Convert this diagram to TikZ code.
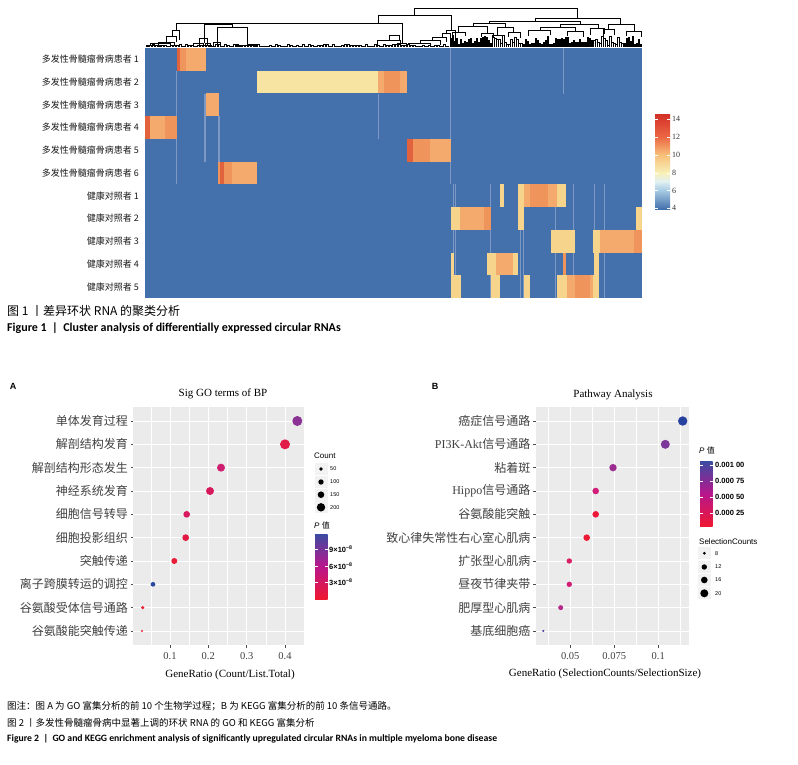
\documentclass[tikz,border=0pt]{standalone}
\usepackage{fontspec}
\setmainfont{Liberation Serif}
\setsansfont{Liberation Sans}
\newfontfamily\cjk{Noto Sans CJK SC}
\newfontfamily\capfont{Carlito}

\definecolor{hmblue}{RGB}{68,112,172}
\definecolor{hmfaint}{RGB}{125,152,195}
\definecolor{hmred}{RGB}{226,98,62}
\definecolor{hmorange}{RGB}{239,148,90}
\definecolor{hmpeach}{RGB}{243,170,108}
\definecolor{hmyellow}{RGB}{247,212,140}
\definecolor{hmpale}{RGB}{248,228,162}
\definecolor{panelgray}{RGB}{235,235,235}
\definecolor{pA1}{RGB}{140,50,150}
\definecolor{pA2}{RGB}{226,26,72}
\definecolor{pA3}{RGB}{205,30,112}
\definecolor{pA4}{RGB}{215,26,92}
\definecolor{pA5}{RGB}{216,26,96}
\definecolor{pA6}{RGB}{226,26,66}
\definecolor{pA7}{RGB}{232,28,56}
\definecolor{pA8}{RGB}{42,72,160}
\definecolor{pA9}{RGB}{236,30,50}
\definecolor{pB1}{RGB}{40,66,160}
\definecolor{pB2}{RGB}{125,55,155}
\definecolor{pB3}{RGB}{155,45,145}
\definecolor{pB4}{RGB}{210,30,120}
\definecolor{pB5}{RGB}{236,26,56}
\definecolor{pB6}{RGB}{236,26,50}
\definecolor{pB7}{RGB}{216,30,100}
\definecolor{pB8}{RGB}{210,30,116}
\definecolor{pB9}{RGB}{180,40,140}
\definecolor{pB10}{RGB}{82,60,160}
\definecolor{cbblue}{RGB}{60,75,162}
\definecolor{cbmag}{RGB}{185,22,140}
\definecolor{cbred}{RGB}{240,24,48}

% one heatmap cell run: row, x from, x to, colour
\newcommand{\hmbar}[4]{\fill[#4] (#2,{48+(#1-1)*22.727}) rectangle (#3,{48+#1*22.727});}

\tikzset{
  dendro/.style={line width=0.45pt, black},
  rowlab/.style={anchor=east, inner sep=0pt, text=black!90, font=\cjk\fontsize{9}{10}\selectfont},
  golab/.style={anchor=east, inner sep=0pt, text=black!75, font=\cjk\fontsize{12}{13}\selectfont},
  axnum/.style={inner sep=0pt, text=black!75, font=\fontsize{10.5}{12}\selectfont},
  axtitle/.style={inner sep=0pt, font=\fontsize{11}{13}\selectfont},
  bubble/.style={circle, inner sep=0pt, minimum size=#1pt},
  legtitle/.style={anchor=west, inner sep=0pt, font=\sffamily\fontsize{8}{9}\selectfont},
  legnum/.style={anchor=west, inner sep=0pt, font=\sffamily\fontsize{5.5}{6}\selectfont},
  cbnum/.style={anchor=west, inner sep=0pt, font=\sffamily\bfseries\fontsize{7.5}{9}\selectfont},
  hmnum/.style={anchor=west, inner sep=0pt, text=black!80, font=\fontsize{8}{9}\selectfont},
  panellab/.style={inner sep=0pt, font=\sffamily\bfseries\fontsize{9}{10}\selectfont},
  capcn/.style={anchor=west, inner sep=0pt, font=\cjk\fontsize{9.5}{11}\selectfont},
  capen/.style={anchor=west, inner sep=0pt, font=\capfont\bfseries\fontsize{12}{14}\selectfont},
}

\begin{document}
\begin{tikzpicture}[x=1pt,y=-1pt]
\useasboundingbox (0,0) rectangle (798,765);

% Heatmap
\fill[hmblue] (145,48) rectangle (642,298);
\fill[hmfaint] (449.5,48) rectangle (451,184);
\fill[hmfaint] (175.5,71) rectangle (177,184);
\fill[hmfaint] (204,94) rectangle (205.5,162);
\fill[hmfaint] (218,116) rectangle (219.5,162);
\fill[hmfaint] (562.5,48) rectangle (564,94);
\fill[hmfaint] (377.5,94) rectangle (379,139);
\foreach \x in {453,455,490,520,523,555,573,594,604}
  \fill[hmfaint] (\x,184) rectangle (\x+1.3,298);

\hmbar{1}{177}{206}{hmpeach}
\hmbar{1}{177}{186}{hmorange}
\hmbar{1}{177}{180}{hmred}
\hmbar{2}{257}{378}{hmpale}
\hmbar{2}{378}{407}{hmpeach}
\hmbar{2}{384}{400}{hmorange}
\hmbar{3}{206}{219}{hmpeach}
\hmbar{4}{145}{177}{hmpeach}
\hmbar{4}{165}{177}{hmorange}
\hmbar{4}{145}{150}{hmred}
\hmbar{5}{407}{451}{hmpeach}
\hmbar{5}{413}{430}{hmorange}
\hmbar{5}{407}{413}{hmred}
\hmbar{6}{218}{257}{hmpeach}
\hmbar{6}{218}{232}{hmorange}
\hmbar{6}{220}{224}{hmred}
\hmbar{7}{500}{504}{hmyellow}
\hmbar{7}{518}{566}{hmyellow}
\hmbar{7}{524}{557}{hmpeach}
\hmbar{7}{530}{548}{hmorange}
\hmbar{8}{451}{491}{hmyellow}
\hmbar{8}{460}{488}{hmpeach}
\hmbar{8}{484}{491}{hmorange}
\hmbar{8}{518}{524}{hmyellow}
\hmbar{8}{636}{642}{hmyellow}
\hmbar{9}{551}{575}{hmyellow}
\hmbar{9}{593}{642}{hmpeach}
\hmbar{9}{593}{600}{hmyellow}
\hmbar{9}{634}{642}{hmorange}
\hmbar{10}{451}{454}{hmyellow}
\hmbar{10}{487}{518}{hmyellow}
\hmbar{10}{496}{513}{hmpeach}
\hmbar{10}{563}{566}{hmorange}
\hmbar{10}{594}{599}{hmyellow}
\hmbar{11}{451}{461}{hmyellow}
\hmbar{11}{491}{500}{hmyellow}
\hmbar{11}{524}{530}{hmyellow}
\hmbar{11}{557}{567}{hmyellow}
\hmbar{11}{567}{593}{hmpeach}
\hmbar{11}{575}{590}{hmorange}
\hmbar{11}{593}{599}{hmyellow}

% Row labels
\foreach \i in {1,...,6}
  \node[rowlab] (mm\i) at (139,{48+(\i-0.5)*22.727}) {多发性骨髓瘤骨病患者 \i};
\foreach \i in {1,...,5}
  \node[rowlab] (hc\i) at (139,{48+(\i+5.5)*22.727}) {健康对照者 \i};

% Dendrogram
\draw[dendro] (414,15) |- (577,8) -- (577,18);
\draw[dendro] (378,23) |- (451,15) -- (451,30);
\draw[dendro] (176,30) |- (402,23) -- (402,43);
\draw[dendro] (204,43) |- (232,24.5) -- (232,27);
\draw[dendro] (217,47) |- (247,27) -- (247,45);
\draw[dendro] (172,36) |- (179,30) -- (179,40);
\draw[dendro] (166,43) |- (176,36) -- (176,42);
\draw[dendro] (150,46) |- (170,43) -- (170,46);
\draw[dendro] (158,46) |- (174,42) -- (174,45);
\draw[dendro] (147,47) |- (160,45) -- (160,47);
\draw[dendro] (199,46) |- (207,38) -- (207,45);
\draw[dendro] (193,47) |- (203,43) -- (203,46);
\draw[dendro] (205,46) |- (210,43) -- (210,47);
\draw[dendro] (213,47) |- (220,42) -- (220,47);
\draw[dendro] (237,47) |- (255,45) -- (255,47);
\draw[dendro] (397,47) |- (406,43) -- (406,47);
\draw[dendro] (377,47) |- (400,40) -- (400,47);
\draw[dendro] (389,40) |- (399,35) -- (399,40);
\draw[dendro] (446,33) |- (455,30) -- (455,45);
\draw[dendro] (442,37) |- (450,33) -- (450,40);
\draw[dendro] (432,40.5) |- (446,37) -- (446,42);
\draw[dendro] (420,43.3) |- (440,40.5) -- (440,45);
\draw[dendro] (408,45) |- (430,43.3) -- (430,46);
\draw[dendro] (535,21) |- (620,18) -- (620,24);
\draw[dendro] (489,23) |- (580,21) -- (580,24);
\draw[dendro] (473,26) |- (505,23) -- (505,27);
\draw[dendro] (458,32) |- (487,26) -- (487,33);
\draw[dendro] (452,38) |- (465,32) -- (465,36);
\draw[dendro] (481,37) |- (493,33) -- (493,38);
\draw[dendro] (497,35) |- (513,27) -- (513,32);
\draw[dendro] (492,39) |- (502,35) -- (502,38);
\draw[dendro] (508,37) |- (520,32) -- (520,38);
\draw[dendro] (560,27) |- (598,24) -- (598,28);
\draw[dendro] (540,30) |- (575,27) -- (575,31);
\draw[dendro] (528,36) |- (550,30) -- (550,35);
\draw[dendro] (567,36) |- (583,31) -- (583,37);
\draw[dendro] (590,35) |- (604,28) -- (604,34);
\draw[dendro] (608,29) |- (634,24) -- (634,31);
\draw[dendro] (603,36) |- (614,29) -- (614,35);
\draw[dendro] (626,36) |- (641,31) -- (641,37);
\pgfmathsetseed{11}
\foreach \i in {0,...,94} {
  \pgfmathsetmacro{\xa}{450+\i*2.02}
  \pgfmathsetmacro{\hh}{2+10*rnd}
  \draw[dendro] (\xa,47) |- (\xa+1.3,47-\hh) -- (\xa+1.3,47);
}
\foreach \i in {0,...,100} {
  \pgfmathsetmacro{\xa}{146+\i*3}
  \pgfmathsetmacro{\hh}{0.6+2.4*rnd}
  \draw[dendro] (\xa,47) |- (\xa+2,47-\hh) -- (\xa+2,47);
}

% Heatmap colour key
\shade[top color={rgb,255:red,212;green,50;blue,40}, bottom color={rgb,255:red,236;green,104;blue,68}] (655,115) rectangle (670,137);
\shade[top color={rgb,255:red,236;green,104;blue,68}, bottom color={rgb,255:red,248;green,192;blue,122}] (655,137) rectangle (670,155);
\shade[top color={rgb,255:red,248;green,192;blue,122}, bottom color={rgb,255:red,247;green,240;blue,184}] (655,155) rectangle (670,173);
\shade[top color={rgb,255:red,247;green,240;blue,184}, bottom color={rgb,255:red,226;green,240;blue,242}] (655,173) rectangle (670,181.5);
\shade[top color={rgb,255:red,226;green,240;blue,242}, bottom color={rgb,255:red,166;green,202;blue,228}] (655,181.5) rectangle (670,190.5);
\shade[top color={rgb,255:red,166;green,202;blue,228}, bottom color=hmblue] (655,190.5) rectangle (670,209);
\foreach \v/\yy in {14/119,12/137,10/155,8/173,6/190.5,4/208} {
  \draw[white, line width=0.6pt] (655,\yy) -- (658,\yy) (667,\yy) -- (670,\yy);
  \node[hmnum] (hml\v) at (672,\yy) {\v};
}

% Figure 1 caption
\node[capcn, font=\cjk\fontsize{12}{13}\selectfont] (cap1cn) at (7,311) {图 1 丨差异环状 RNA 的聚类分析};
\node[capen] (cap1en) at (7,328) {Figure 1~~|~~Cluster analysis of differentially expressed circular RNAs};

% Panel A
\node[panellab] (labA) at (13,386) {A};
\node[axtitle] (titA) at (223,394) {Sig GO terms of BP};
\fill[panelgray] (133,407) rectangle (305,645);
\foreach \x in {150.8,189.2,227.5,265.8,304.2}
  \draw[white, line width=0.3pt] (\x,407) -- (\x,645);
\foreach \x in {170,208.3,246.7,285}
  \draw[white, line width=0.7pt] (\x,407) -- (\x,645);
\foreach \k in {0,...,9} {
  \draw[white, line width=0.7pt] (133,{421+\k*23.33}) -- (305,{421+\k*23.33});
  \draw[black!70, line width=0.5pt] (130.5,{421+\k*23.33}) -- (133,{421+\k*23.33});
}
\foreach \k/\lab/\xv/\d/\c in {1/单体发育过程/297.3/10/pA1, 2/解剖结构发育/285/10/pA2,
    3/解剖结构形态发生/221/8/pA3, 4/神经系统发育/210/8/pA4, 5/细胞信号转导/186.7/6.7/pA5,
    6/细胞投影组织/185.7/6.7/pA6, 7/突触传递/174.3/6/pA7, 8/离子跨膜转运的调控/153/4.7/pA8,
    9/谷氨酸受体信号通路/142.7/3.4/pA9, 10/谷氨酸能突触传递/142/2.4/pA9} {
  \node[golab] (gol\k) at (128,{421+(\k-1)*23.33}) {\lab};
  \node[bubble=\d, fill=\c] (god\k) at (\xv,{421+(\k-1)*23.33}) {};
}
\foreach \v/\xx [count=\n] in {0.1/170,0.2/208.3,0.3/246.7,0.4/285} {
  \draw[black!70, line width=0.5pt] (\xx,645) -- (\xx,647.5);
  \node[axnum] (gox\n) at (\xx,656.5) {\v};
}
\node[axtitle] (xtA) at (230,675) {GeneRatio (Count/List.Total)};

% Legend A
\node[legtitle] (cntA) at (314,456) {Count};
\foreach \yy/\d/\v [count=\n] in {469/3.6/50,482/5.4/100,494.7/6.6/150,507.3/8.4/200} {
  \fill[black!5] (314.5,\yy-6) rectangle (327.5,\yy+6);
  \node[bubble=\d, fill=black] (cka\n) at (321,\yy) {};
  \node[legnum] (cla\n) at (330,\yy) {\v};
}
\node[legtitle] (pA) at (314,525) {{\itshape P} {\cjk 值}};
\shade[top color=cbblue, bottom color=cbmag] (315,534) rectangle (327.7,566.5);
\shade[top color=cbmag, bottom color=cbred] (315,566.5) rectangle (327.7,599.3);
\foreach \yy/\v [count=\n] in {549.3/9,566/6,582.5/3} {
  \draw[white, line width=0.5pt] (315,\yy) -- (317.5,\yy) (325.2,\yy) -- (327.7,\yy);
  \node[cbnum] (cba\n) at (329,\yy) {\v×10\textsuperscript{−8}};
}

% Panel B
\node[panellab] (labB) at (435,386) {B};
\node[axtitle] (titB) at (613,395) {Pathway Analysis};
\fill[panelgray] (535.7,407) rectangle (689,645);
\foreach \x in {548.3,592.3,636.3,680.3}
  \draw[white, line width=0.3pt] (\x,407) -- (\x,645);
\foreach \x in {570.3,614.3,658.3}
  \draw[white, line width=0.7pt] (\x,407) -- (\x,645);
\foreach \k in {0,...,9} {
  \draw[white, line width=0.7pt] (535.7,{421+\k*23.33}) -- (689,{421+\k*23.33});
  \draw[black!70, line width=0.5pt] (533.2,{421+\k*23.33}) -- (535.7,{421+\k*23.33});
}
\foreach \k/\lab/\xv/\d/\c in {1/癌症信号通路/682.7/9.4/pB1, 2/{\rmfamily PI3K-Akt}信号通路/665.3/9/pB2,
    3/粘着斑/613/7.4/pB3, 4/{\rmfamily Hippo}信号通路/595.7/6.6/pB4, 5/谷氨酸能突触/595.7/6.6/pB5,
    6/致心律失常性右心室心肌病/586.7/6.6/pB6, 7/扩张型心肌病/569.3/5.4/pB7,
    8/昼夜节律夹带/569.3/5.4/pB8, 9/肥厚型心肌病/560.7/5/pB9, 10/基底细胞癌/543.3/2.4/pB10} {
  \node[golab] (kgl\k) at (530.5,{421+(\k-1)*23.33}) {\lab};
  \node[bubble=\d, fill=\c] (kgd\k) at (\xv,{421+(\k-1)*23.33}) {};
}
\foreach \v/\xx [count=\n] in {0.05/570.3,0.075/614.3,0.1/658.3} {
  \draw[black!70, line width=0.5pt] (\xx,645) -- (\xx,647.5);
  \node[axnum] (kgx\n) at (\xx,656.5) {\v};
}
\node[axtitle] (xtB) at (605,674) {GeneRatio (SelectionCounts/SelectionSize)};

% Legend B
\node[legtitle] (pB) at (699,450) {{\itshape P} {\cjk 值}};
\shade[top color=cbblue, bottom color=cbmag] (700,461.7) rectangle (712.7,494);
\shade[top color=cbmag, bottom color=cbred] (700,494) rectangle (712.7,526.7);
\foreach \yy/\v [count=\n] in {465/0.001 00,481/0.000 75,497/0.000 50,513/0.000 25} {
  \draw[white, line width=0.5pt] (700,\yy) -- (702.5,\yy) (710.2,\yy) -- (712.7,\yy);
  \node[cbnum] (cbb\n) at (715,\yy) {\v};
}
\node[legtitle] (cntB) at (699,541.7) {SelectionCounts};
\foreach \yy/\d/\v [count=\n] in {553.3/3/8,567/5.4/12,580/6.6/16,593.3/8/20} {
  \fill[black!5] (698,\yy-6) rectangle (711,\yy+6);
  \node[bubble=\d, fill=black] (ckb\n) at (704.3,\yy) {};
  \node[legnum] (clb\n) at (715,\yy) {\v};
}

% Figure 2 caption
\node[capcn] (notecn) at (7,706.7) {图注：图 A 为 GO 富集分析的前 10 个生物学过程；B 为 KEGG 富集分析的前 10 条信号通路。};
\node[capcn] (cap2cn) at (7,722.7) {图 2 丨多发性骨髓瘤骨病中显著上调的环状 RNA 的 GO 和 KEGG 富集分析};
\node[capen, font=\capfont\bfseries\fontsize{9.7}{11}\selectfont] (cap2en) at (7,738.3) {Figure 2~~|~~GO and KEGG enrichment analysis of significantly upregulated circular RNAs in multiple myeloma bone disease};

\end{tikzpicture}
\end{document}
